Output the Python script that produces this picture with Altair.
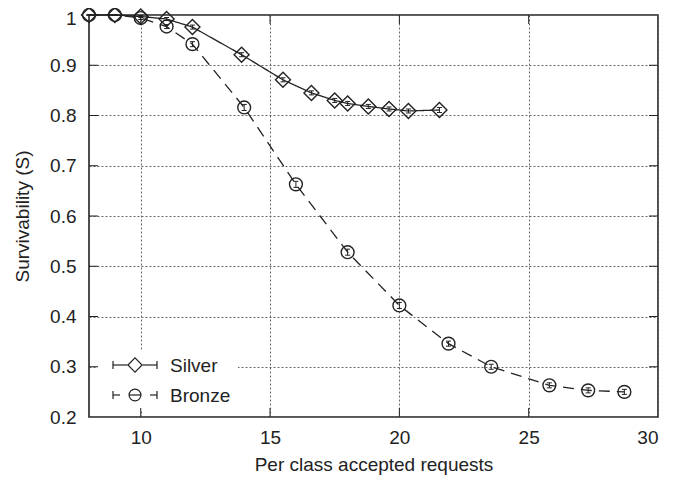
import altair as alt
import pandas as pd

# ---- data ----
series_names = ["Silver", "Bronze"]

silver_x = [8, 9, 10, 11, 12, 13.9, 15.5, 16.6, 17.5, 18.0, 18.8, 19.6, 20.35, 21.55]
silver_y = [1.0, 1.0, 0.997, 0.992, 0.976, 0.921, 0.871, 0.845, 0.830, 0.824, 0.818, 0.813, 0.809, 0.811]
silver_err = [0.0, 0.0, 0.002, 0.003, 0.004, 0.004, 0.004, 0.004, 0.004, 0.004, 0.004, 0.004, 0.004, 0.005]

bronze_x = [8, 9, 10, 11, 12, 14.0, 16.0, 18.0, 20.0, 21.9, 23.55, 25.8, 27.3, 28.7]
bronze_y = [1.0, 1.0, 0.994, 0.977, 0.942, 0.816, 0.663, 0.528, 0.422, 0.346, 0.300, 0.263, 0.253, 0.250]
bronze_err = [0.0, 0.0, 0.003, 0.004, 0.005, 0.006, 0.006, 0.006, 0.006, 0.005, 0.005, 0.005, 0.005, 0.005]

x_ticks = [10, 15, 20, 25, 30]
y_ticks = [0.2, 0.3, 0.4, 0.5, 0.6, 0.7, 0.8, 0.9, 1.0]

rows = []
for name, xs, ys, es in [("Silver", silver_x, silver_y, silver_err),
                         ("Bronze", bronze_x, bronze_y, bronze_err)]:
    for x, y, e in zip(xs, ys, es):
        rows.append({"series": name, "x": x, "y": y, "lo": y - e, "hi": y + e})
df = pd.DataFrame(rows)
leg_df = pd.DataFrame({"key": series_names})

xt_df = pd.DataFrame({"v": x_ticks[:-1]})
yt_df = pd.DataFrame({"v": y_ticks[1:-1]})

FONT = "Liberation Sans"
INK = "#222222"
W, H = 569, 402

x_scale = alt.Scale(domain=[8, 30], nice=False, zero=False)
y_scale = alt.Scale(domain=[0.2, 1.0], nice=False, zero=False)

x_axis = alt.Axis(values=x_ticks, title="Per class accepted requests", grid=True,
                  gridDash=[2, 2], gridColor="#666666", gridWidth=1, ticks=False,
                  domain=False, labelPadding=11, titlePadding=8,
                  labelFontSize=19, titleFontSize=19, labelFont=FONT, titleFont=FONT,
                  labelColor=INK, titleColor=INK, titleFontWeight="normal")
y_axis = alt.Axis(values=y_ticks, title="Survivability (S)", format=".1~f", grid=True,
                  gridDash=[2, 2], gridColor="#666666", gridWidth=1, ticks=False,
                  domain=False, labelPadding=13, titlePadding=17,
                  labelOffset={"condition": {"test": "datum.value >= 1", "value": 3}, "value": 0},
                  labelFontSize=19, titleFontSize=19, labelFont=FONT, titleFont=FONT,
                  labelColor=INK, titleColor=INK, titleFontWeight="normal")

X = alt.X("x:Q", scale=x_scale, axis=x_axis)
Y = alt.Y("y:Q", scale=y_scale, axis=y_axis)

base = alt.Chart(df)

lines = base.mark_line(color=INK, strokeWidth=1.3).encode(
    x=X, y=Y,
    strokeDash=alt.StrokeDash("series:N",
                              scale=alt.Scale(domain=series_names, range=[[1, 0], [11, 7]]),
                              legend=None),
    detail="series:N",
)

err_rules = base.mark_rule(color=INK, strokeWidth=1).encode(
    x=alt.X("x:Q", scale=x_scale), y=alt.Y("lo:Q", scale=y_scale), y2="hi:Q")
err_lo = base.mark_tick(orient="horizontal", size=5, thickness=1, color=INK, opacity=1).encode(
    x=alt.X("x:Q", scale=x_scale), y=alt.Y("lo:Q", scale=y_scale))
err_hi = base.mark_tick(orient="horizontal", size=5, thickness=1, color=INK, opacity=1).encode(
    x=alt.X("x:Q", scale=x_scale), y=alt.Y("hi:Q", scale=y_scale))

silver_pts = base.transform_filter(alt.datum.series == "Silver").mark_point(
    shape="diamond", size=225, filled=False, color=INK, strokeWidth=1.4, opacity=1
).encode(x=X, y=Y)
bronze_pts = base.transform_filter(alt.datum.series == "Bronze").mark_point(
    shape="circle", size=165, filled=False, color=INK, strokeWidth=1.4, opacity=1
).encode(x=X, y=Y)

# ---- key box (gnuplot style: |--<>--| and |- (-) -|), placed in the plot's lower left ----
legend_parts = [alt.Chart(leg_df.head(1)).mark_rect(color="white").encode(
    x=alt.value(8), x2=alt.value(149), y=alt.value(335), y2=alt.value(396))]
key_shapes = {"Silver": ("diamond", 200), "Bronze": ("circle", 140)}
key_segments = {"Silver": [(24, 38.5), (53.5, 68)],
                "Bronze": [(24, 31), (61, 68), (40, 52)]}
for i, name in enumerate(series_names):
    yv = 350 + 30 * i
    row = alt.Chart(leg_df).transform_filter(alt.datum.key == name)
    for a, b in key_segments[name]:
        legend_parts.append(row.mark_rule(color=INK, strokeWidth=1.2).encode(
            x=alt.value(a), x2=alt.value(b), y=alt.value(yv)))
    for cx in (24, 68):
        legend_parts.append(row.mark_rule(color=INK, strokeWidth=1.2).encode(
            x=alt.value(cx), y=alt.value(yv - 4), y2=alt.value(yv + 4)))
    shp, sz = key_shapes[name]
    legend_parts.append(row.mark_point(shape=shp, size=sz, filled=False, color=INK,
                                       strokeWidth=1.2, opacity=1).encode(
        x=alt.value(46), y=alt.value(yv)))
    legend_parts.append(row.mark_text(align="left", baseline="middle", fontSize=19,
                                      font=FONT, color=INK).encode(
        x=alt.value(81), y=alt.value(yv + 1), text="key:N"))

# inward mirrored tick marks
tb = alt.Chart(xt_df).mark_rule(color=INK, strokeWidth=1).encode(
    x=alt.X("v:Q", scale=x_scale), y=alt.value(H), y2=alt.value(H - 9))
tt = alt.Chart(xt_df).mark_rule(color=INK, strokeWidth=1).encode(
    x=alt.X("v:Q", scale=x_scale), y=alt.value(0), y2=alt.value(9))
tl = alt.Chart(yt_df).mark_rule(color=INK, strokeWidth=1).encode(
    y=alt.Y("v:Q", scale=y_scale), x=alt.value(0), x2=alt.value(9))
tr = alt.Chart(yt_df).mark_rule(color=INK, strokeWidth=1).encode(
    y=alt.Y("v:Q", scale=y_scale), x=alt.value(W), x2=alt.value(W - 9))

chart = alt.layer(
    lines, err_rules, err_lo, err_hi, silver_pts, bronze_pts, *legend_parts, tb, tt, tl, tr
).properties(
    width=W, height=H,
    autosize=alt.AutoSizeParams(type="none"),
    padding={"left": 81, "top": 7, "right": 20, "bottom": 62},
    background="white",
).configure_view(stroke=INK, strokeWidth=1.6)

chart.save("out.html", embed_options={"renderer": "svg", "actions": False})
